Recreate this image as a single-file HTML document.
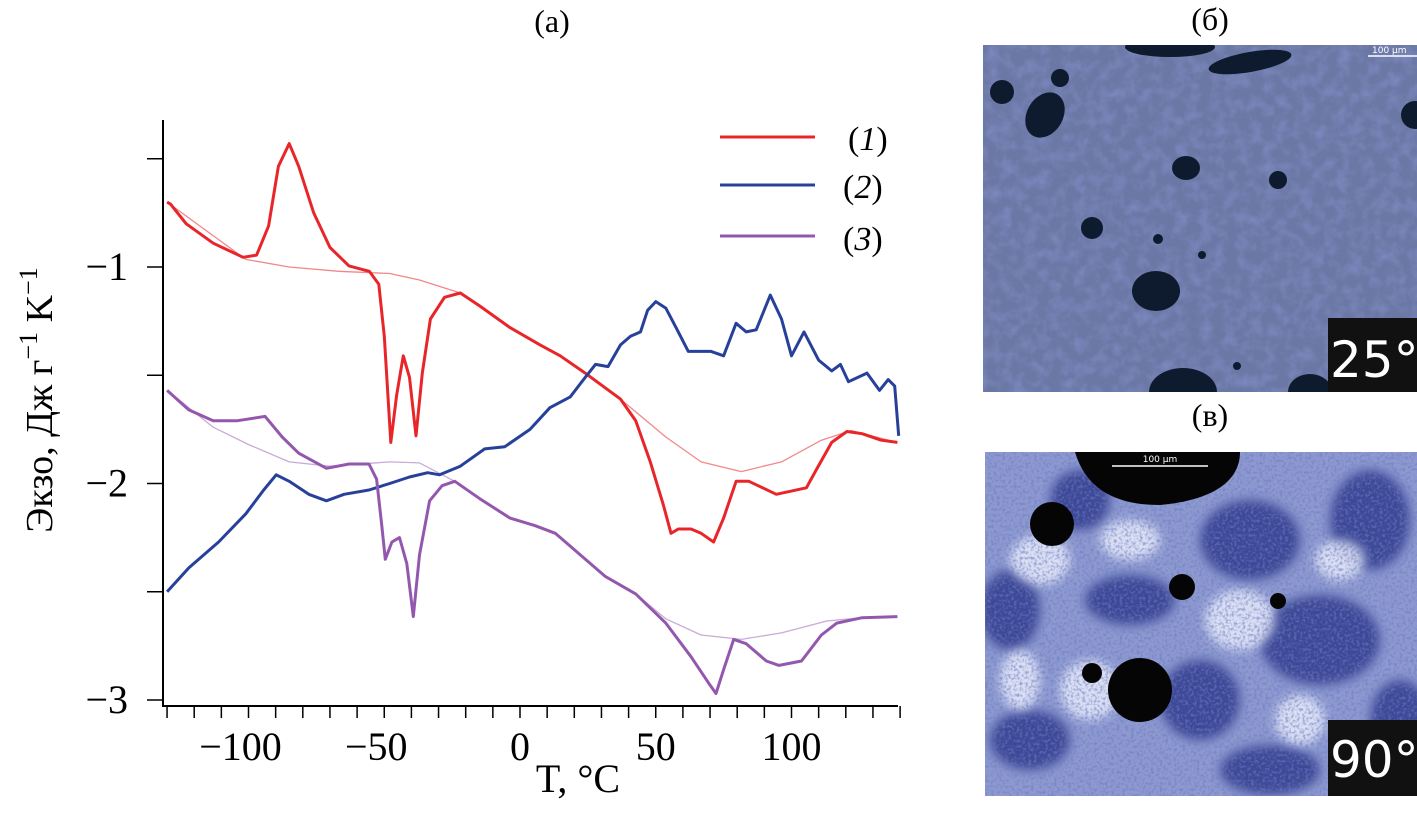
<!DOCTYPE html>
<html><head><meta charset="utf-8"><style>
html,body{margin:0;padding:0;background:#fff;}
svg{display:block;}
</style></head><body>
<svg id="chart" width="1417" height="816" viewBox="0 0 1417 816" xmlns="http://www.w3.org/2000/svg" font-family="Liberation Serif, Noto Serif CJK SC, serif">
<defs>
<filter id="blur4"><feGaussianBlur stdDeviation="5"/></filter>
<filter id="noise"><feTurbulence type="fractalNoise" baseFrequency="0.08" numOctaves="3" seed="4"/><feColorMatrix type="matrix" values="0 0 0 0 0.25  0 0 0 0 0.3  0 0 0 0 0.65  0 0 0 -2.2 1.35"/></filter>
<filter id="noise2"><feTurbulence type="fractalNoise" baseFrequency="0.35" numOctaves="2" seed="7"/><feColorMatrix type="matrix" values="0 0 0 0 0.15  0 0 0 0 0.2  0 0 0 0 0.55  0 0 0 -3 1.7"/></filter>
<clipPath id="c2"><rect x="985" y="452" width="432" height="344"/></clipPath>
<clipPath id="c1"><rect x="983" y="45" width="434" height="347"/></clipPath>
</defs>
<text x="552" y="32" font-size="32" text-anchor="middle">(а)</text>
<g id="plot"></g>
<text x="578" y="792" font-size="40" text-anchor="middle">T, °C</text>
<text transform="translate(52,400) rotate(-90)" font-size="38" text-anchor="middle">Экзо, Дж г<tspan dy="-15" font-size="26">−1</tspan><tspan dy="15"> K</tspan><tspan dy="-15" font-size="26">−1</tspan></text>
<g>
<line x1="720" y1="137" x2="815" y2="137" stroke="#e8262a" stroke-width="3"/>
<text x="848" y="150" font-size="34">(<tspan font-style="italic">1</tspan>)</text>
<line x1="720" y1="185" x2="815" y2="185" stroke="#27419a" stroke-width="3"/>
<text x="843" y="198" font-size="34">(<tspan font-style="italic">2</tspan>)</text>
<line x1="720" y1="236" x2="815" y2="236" stroke="#9358ad" stroke-width="3"/>
<text x="843" y="250" font-size="34">(<tspan font-style="italic">3</tspan>)</text>
</g>
<text x="1210" y="30" font-size="32" text-anchor="middle">(б)</text>
<g clip-path="url(#c1)">
<rect x="983" y="45" width="434" height="347" fill="#6b78a5"/>
<rect x="983" y="45" width="434" height="347" filter="url(#noise)" opacity="0.5"/>
<g fill="#0e1a2e">
<ellipse cx="1170" cy="47" rx="45" ry="10"/>
<ellipse cx="1250" cy="62" rx="42" ry="10" transform="rotate(-10 1250 62)"/>
<circle cx="1002" cy="92" r="12"/>
<ellipse cx="1045" cy="115" rx="18" ry="24" transform="rotate(30 1045 115)"/>
<circle cx="1060" cy="78" r="9"/>
<ellipse cx="1186" cy="168" rx="14" ry="12"/>
<circle cx="1278" cy="180" r="9"/>
<circle cx="1092" cy="228" r="11"/>
<circle cx="1158" cy="239" r="5"/>
<circle cx="1202" cy="255" r="4"/>
<ellipse cx="1156" cy="291" rx="24" ry="20"/>
<ellipse cx="1183" cy="392" rx="34" ry="24"/>
<ellipse cx="1310" cy="392" rx="22" ry="18"/>
<circle cx="1415" cy="115" r="14"/>
<circle cx="1237" cy="366" r="4"/>
</g>
<rect x="1328" y="318" width="90" height="74" fill="#111"/>
<text x="1330" y="377" font-family="DejaVu Sans, sans-serif" font-size="50" fill="#fff">25°C</text>
<line x1="1368" y1="56" x2="1417" y2="56" stroke="#fff" stroke-width="1.5"/>
<text x="1372" y="53" font-family="DejaVu Sans, sans-serif" font-size="9" fill="#fff">100 μm</text>
</g>
<text x="1210" y="426" font-size="32" text-anchor="middle">(в)</text>
<g clip-path="url(#c2)">
<rect x="985" y="452" width="432" height="344" fill="#8d99cf"/>
<g fill="#2a3488" opacity="0.8" filter="url(#blur4)">
<ellipse cx="1010" cy="610" rx="30" ry="40"/><ellipse cx="1030" cy="740" rx="40" ry="30"/>
<ellipse cx="1250" cy="540" rx="50" ry="40"/><ellipse cx="1370" cy="520" rx="40" ry="50"/>
<ellipse cx="1320" cy="640" rx="60" ry="45"/><ellipse cx="1200" cy="700" rx="40" ry="40"/>
<ellipse cx="1130" cy="600" rx="45" ry="25"/><ellipse cx="1400" cy="720" rx="30" ry="40"/>
<ellipse cx="1080" cy="500" rx="30" ry="30"/><ellipse cx="1270" cy="770" rx="50" ry="25"/>
</g>
<g fill="#f4f7ff" opacity="0.75" filter="url(#blur4)">
<ellipse cx="1040" cy="560" rx="30" ry="25"/><ellipse cx="1130" cy="540" rx="30" ry="20"/>
<ellipse cx="1240" cy="620" rx="35" ry="30"/><ellipse cx="1090" cy="690" rx="30" ry="30"/>
<ellipse cx="1340" cy="560" rx="25" ry="20"/><ellipse cx="1300" cy="720" rx="25" ry="25"/>
<ellipse cx="1020" cy="680" rx="20" ry="30"/>
</g>
<rect x="985" y="452" width="432" height="344" filter="url(#noise2)" opacity="0.6"/>
<g fill="#050505">
<path d="M1075 452 L1240 452 C1240 480 1215 500 1160 505 C1110 505 1085 485 1075 452 Z"/>
<circle cx="1052" cy="524" r="22"/>
<circle cx="1182" cy="587" r="13"/>
<circle cx="1278" cy="601" r="8"/>
<circle cx="1092" cy="673" r="10"/>
<circle cx="1140" cy="690" r="32"/>
</g>
<line x1="1112" y1="466" x2="1208" y2="466" stroke="#fff" stroke-width="1.5"/>
<text x="1160" y="462" font-family="DejaVu Sans, sans-serif" font-size="9" fill="#fff" text-anchor="middle">100 μm</text>
<rect x="1328" y="720" width="90" height="76" fill="#111"/>
<text x="1330" y="777" font-family="DejaVu Sans, sans-serif" font-size="50" fill="#fff">90°C</text>
</g>
</svg>
<script>
const xTicksMajor = [-100, -50, 0, 50, 100];
const yTicksMajor = [-1, -2, -3];
const s1T = [-130,-128.7,-123,-113,-102,-97,-92.6,-89,-85,-81.5,-76,-70,-63,-55.5,-52,-50,-47.6,-45.4,-43,-40.7,-38.3,-36,-33,-27.8,-22,-14.8,-3.7,7.4,14.8,24,37,42.6,48,52.8,55.6,58.3,63,66.7,71.3,75,79.6,84.3,94.4,105.5,109,114.8,120.4,126,133,139];
const s1V = [-0.70,-0.71,-0.80,-0.89,-0.955,-0.945,-0.81,-0.535,-0.43,-0.535,-0.75,-0.91,-0.995,-1.02,-1.08,-1.32,-1.81,-1.59,-1.41,-1.51,-1.78,-1.49,-1.24,-1.14,-1.12,-1.18,-1.28,-1.36,-1.41,-1.49,-1.61,-1.71,-1.90,-2.10,-2.23,-2.21,-2.21,-2.23,-2.27,-2.16,-1.99,-1.99,-2.05,-2.02,-1.94,-1.81,-1.76,-1.77,-1.80,-1.81];
const b1T = [-130,-101,-85,-66.7,-48,-37,-22,-14.8,-3.7,7.4,14.8,24,37,53.7,66.7,81.5,96.3,111,122,139];
const b1V = [-0.70,-0.965,-1.0,-1.02,-1.03,-1.06,-1.12,-1.18,-1.28,-1.36,-1.41,-1.49,-1.61,-1.785,-1.90,-1.945,-1.90,-1.80,-1.755,-1.81];
const s2T = [-130,-122,-111,-101,-94.4,-89.8,-85,-77.8,-71.3,-64.8,-55.6,-48,-40.7,-34,-29.6,-22,-13,-5.6,3.7,11,18.5,24,27.8,32.4,37,40.7,44.4,47,50,53.7,58.3,62,70.4,75,79.6,83.3,87,92.2,96.3,100,104.6,110,114.8,118,121,127.8,132.4,135.6,138,139.5];
const s2V = [-2.50,-2.39,-2.27,-2.14,-2.03,-1.96,-1.99,-2.05,-2.08,-2.05,-2.03,-2.00,-1.97,-1.95,-1.96,-1.92,-1.84,-1.83,-1.75,-1.65,-1.60,-1.51,-1.45,-1.46,-1.36,-1.32,-1.30,-1.20,-1.16,-1.19,-1.30,-1.39,-1.39,-1.41,-1.26,-1.30,-1.29,-1.13,-1.24,-1.41,-1.30,-1.43,-1.48,-1.45,-1.53,-1.49,-1.57,-1.52,-1.55,-1.78];
const s3T = [-130,-122,-113,-104,-93.9,-87.6,-81.5,-71.3,-63,-55.6,-52.8,-50.9,-49.6,-47.2,-44.4,-41.7,-39.3,-37,-33.3,-28.7,-24,-14.8,-3.7,5.6,13,20.4,31.5,42.6,53.7,63,69.4,72.2,75,78.7,83.3,90.7,95.4,103.7,111,116.7,126,139];
const s3V = [-1.57,-1.66,-1.71,-1.71,-1.69,-1.785,-1.86,-1.93,-1.91,-1.91,-1.98,-2.195,-2.35,-2.27,-2.25,-2.37,-2.615,-2.33,-2.08,-2.01,-1.99,-2.07,-2.16,-2.195,-2.23,-2.31,-2.43,-2.51,-2.645,-2.80,-2.92,-2.97,-2.86,-2.72,-2.74,-2.82,-2.84,-2.82,-2.70,-2.645,-2.62,-2.615];
const b3T = [-130,-113,-100,-85,-70,-48,-37,-24,-14.8,-3.7,5.6,13,20.4,31.5,42.6,53.7,66.7,81.5,96.3,113,126,139];
const b3V = [-1.57,-1.74,-1.82,-1.90,-1.92,-1.90,-1.905,-1.99,-2.07,-2.16,-2.195,-2.23,-2.31,-2.43,-2.51,-2.625,-2.70,-2.72,-2.69,-2.635,-2.62,-2.615];

const NS='http://www.w3.org/2000/svg';
const X = t => 520 + 2.715*t;
const Y = v => 267 + (-1 - v)*216.5;
const g = document.getElementById('plot');
function mk(tag, attrs){const e=document.createElementNS(NS,tag);for(const k in attrs)e.setAttribute(k,attrs[k]);g.appendChild(e);return e;}

const ax = mk('path',{d:'M163 120 V706 H898',fill:'none',stroke:'#000','stroke-width':2});


for(let t=-130;t<=140;t+=10){
  const tk=mk('line',{x1:X(t),y1:706,x2:X(t),y2:718,stroke:'#000','stroke-width':1.5});
  
  
}
for(let v=-0.5;v>=-3;v-=0.5){
  const tk=mk('line',{x1:147,y1:Y(v),x2:163,y2:Y(v),stroke:'#000','stroke-width':1.5});
  
  
}
xTicksMajor.forEach(t=>{
  const tx=mk('text',{x:X(t)-(t<0?8:0),y:760,'font-size':40,'text-anchor':'middle'});
  tx.textContent=(t<0?'−':'')+Math.abs(t);
  
  
});
yTicksMajor.forEach(v=>{
  const tx=mk('text',{x:128,y:Y(v)+13,'font-size':40,'text-anchor':'end'});
  tx.textContent='−'+Math.abs(v);
  
  
});
function line(T,V,color,w,name,op){
  const d=T.map((t,i)=>(i?'L':'M')+X(t).toFixed(1)+' '+Y(V[i]).toFixed(1)).join(' ');
  const p=mk('path',{d:d,fill:'none',stroke:color,'stroke-width':w,'stroke-linejoin':'round',opacity:op});
  
  
}
line(b1T,b1V,'#e8262a',1.3,'baseline-1',0.55);
line(b3T,b3V,'#9358ad',1.3,'baseline-3',0.5);
line(s1T,s1V,'#e8262a',3,'series-1',1);
line(s2T,s2V,'#27419a',3,'series-2',1);
line(s3T,s3V,'#9358ad',3,'series-3',1);
</script>
</body></html>
